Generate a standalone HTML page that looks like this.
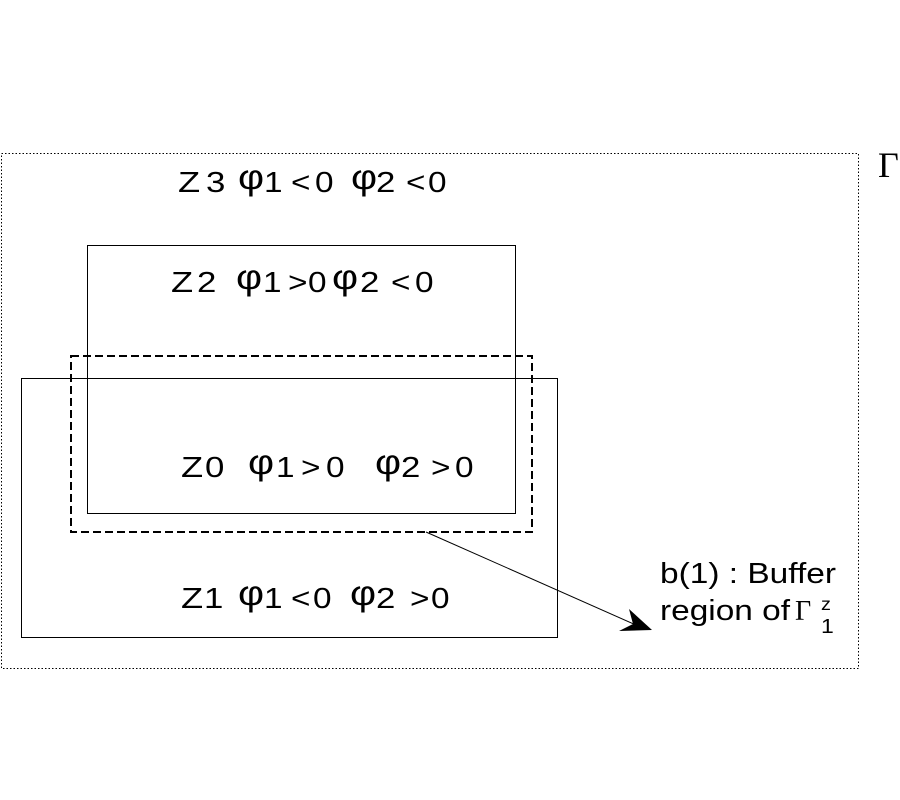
<!DOCTYPE html>
<html><head><meta charset="utf-8"><style>
html,body{margin:0;padding:0;background:#fff;}
svg{display:block;}
text{font-family:"Liberation Sans",sans-serif;fill:#000;}
.t{font-size:29px;}
.p{font-size:35px;}
</style></head><body>
<svg width="900" height="800" viewBox="0 0 900 800" xmlns="http://www.w3.org/2000/svg">
<rect x="1.5" y="153.5" width="857" height="515" fill="none" stroke="#000" stroke-width="1" stroke-dasharray="1.5 2"/>
<rect x="87.5" y="245.5" width="428" height="268" fill="none" stroke="#000" stroke-width="1"/>
<rect x="21.5" y="378.5" width="536" height="259" fill="none" stroke="#000" stroke-width="1"/>
<rect x="71" y="356" width="461" height="176" fill="none" stroke="#000" stroke-width="2" stroke-dasharray="8 4"/>
<line x1="426" y1="532" x2="636" y2="625" stroke="#000" stroke-width="1"/>
<polygon points="652,630 629,609 633,624 619,631" fill="#000"/>
<text x="878" y="177" style="font-family:'Liberation Serif',serif;font-size:36px">Γ</text>

<!-- Z3 line baseline 192 -->
<text class="t" transform="translate(178,192) scale(1.25,1)">Z</text>
<text class="t" transform="translate(206,192) scale(1.2,1)">3</text>
<text class="p" transform="translate(238,189) scale(1.15,1)">φ</text>
<text class="t" transform="translate(264,192) scale(1.15,1)">1</text>
<text class="t" transform="translate(291,192) scale(1.15,1)">&lt;</text>
<text class="t" transform="translate(315,192) scale(1.15,1)">0</text>
<text class="p" transform="translate(351,189) scale(1.15,1)">φ</text>
<text class="t" transform="translate(376,192) scale(1.2,1)">2</text>
<text class="t" transform="translate(406,192) scale(1.15,1)">&lt;</text>
<text class="t" transform="translate(428,192) scale(1.15,1)">0</text>

<!-- Z2 line baseline 292 -->
<text class="t" transform="translate(171,292) scale(1.25,1)">Z</text>
<text class="t" transform="translate(197,292) scale(1.2,1)">2</text>
<text class="p" transform="translate(236,289) scale(1.15,1)">φ</text>
<text class="t" transform="translate(263,292) scale(1.15,1)">1</text>
<text class="t" transform="translate(288,292) scale(1.15,1)">&gt;</text>
<text class="t" transform="translate(308,292) scale(1.15,1)">0</text>
<text class="p" transform="translate(332,289) scale(1.15,1)">φ</text>
<text class="t" transform="translate(360,292) scale(1.2,1)">2</text>
<text class="t" transform="translate(391,292) scale(1.15,1)">&lt;</text>
<text class="t" transform="translate(415,292) scale(1.15,1)">0</text>

<!-- Z0 line baseline 477 -->
<text class="t" transform="translate(181,477) scale(1.25,1)">Z</text>
<text class="t" transform="translate(205,477) scale(1.2,1)">0</text>
<text class="p" transform="translate(248,474) scale(1.15,1)">φ</text>
<text class="t" transform="translate(276,477) scale(1.15,1)">1</text>
<text class="t" transform="translate(301,477) scale(1.15,1)">&gt;</text>
<text class="t" transform="translate(326,477) scale(1.15,1)">0</text>
<text class="p" transform="translate(375,474) scale(1.15,1)">φ</text>
<text class="t" transform="translate(401,477) scale(1.2,1)">2</text>
<text class="t" transform="translate(431,477) scale(1.15,1)">&gt;</text>
<text class="t" transform="translate(455,477) scale(1.15,1)">0</text>

<!-- Z1 line baseline 608 -->
<text class="t" transform="translate(181,608) scale(1.25,1)">Z</text>
<text class="t" transform="translate(204,608) scale(1.2,1)">1</text>
<text class="p" transform="translate(238,605) scale(1.15,1)">φ</text>
<text class="t" transform="translate(264,608) scale(1.15,1)">1</text>
<text class="t" transform="translate(291,608) scale(1.15,1)">&lt;</text>
<text class="t" transform="translate(313,608) scale(1.15,1)">0</text>
<text class="p" transform="translate(350,605) scale(1.15,1)">φ</text>
<text class="t" transform="translate(376,608) scale(1.2,1)">2</text>
<text class="t" transform="translate(410,608) scale(1.15,1)">&gt;</text>
<text class="t" transform="translate(431,608) scale(1.15,1)">0</text>

<text x="660" y="583" font-size="29" textLength="176" lengthAdjust="spacingAndGlyphs">b(1) : Buffer</text>
<text x="660" y="620" font-size="29" textLength="130" lengthAdjust="spacingAndGlyphs">region of</text>
<text x="795" y="620" style="font-family:'Liberation Serif',serif;font-size:28px">Γ</text>
<text transform="translate(821,610) scale(1.1,1)" font-size="18">z</text>
<text transform="translate(821,633) scale(1.15,1)" font-size="20">1</text>
</svg>
</body></html>
